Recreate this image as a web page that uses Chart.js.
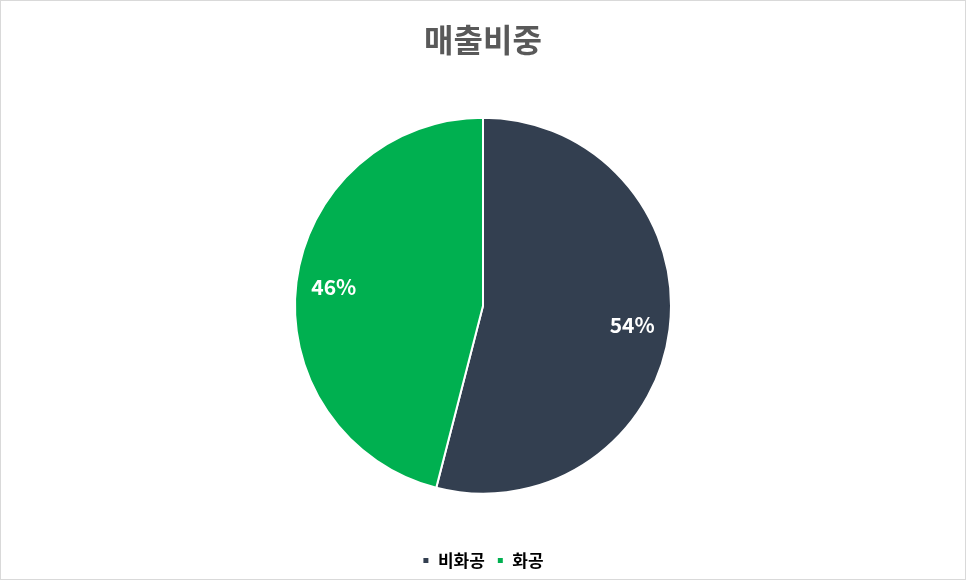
<!DOCTYPE html>
<html>
<head>
<meta charset="utf-8">
<script src="https://cdn.jsdelivr.net/npm/chart.js@4"></script>
<style>
  html, body { margin: 0; padding: 0; background: #fff; }
  #wrap { width: 966px; height: 580px; box-sizing: border-box; border: 1px solid #d9d9d9; }
  #wrap canvas { display: block; }
</style>
</head>
<body>
<div id="wrap"><canvas id="salesChart" width="964" height="578"></canvas></div>
<script>
const categories = ['비화공', '화공'];
const shares = [54, 46];
const sliceColors = ['#333f50', '#00b050'];

const fontFamily = '"Noto Sans CJK KR", "Noto Sans", sans-serif';

// percentage labels inside each slice
const sliceLabels = {
    id: 'sliceLabels',
    afterDatasetsDraw(chart) {
        const ctx = chart.ctx;
        const meta = chart.getDatasetMeta(0);
        ctx.save();
        ctx.fillStyle = '#ffffff';
        ctx.font = '600 21px ' + fontFamily;
        ctx.textAlign = 'center';
        ctx.textBaseline = 'middle';
        meta.data.forEach((arc, i) => {
            const mid = (arc.startAngle + arc.endAngle) / 2;
            const r = arc.outerRadius * 0.8;
            const x = arc.x + Math.cos(mid) * r;
            const y = arc.y + Math.sin(mid) * r;
            ctx.fillText(shares[i] + '%', x, y);
        });
        ctx.restore();
    }
};

new Chart(document.getElementById('salesChart').getContext('2d'), {
    type: 'pie',
    data: {
        labels: categories,
        datasets: [{
            data: shares,
            backgroundColor: sliceColors,
            borderColor: '#ffffff',
            borderWidth: 2
        }]
    },
    options: {
        responsive: false,
        animation: false,
        radius: 188,
        layout: { padding: { top: 6, bottom: 0 } },
        plugins: {
            title: {
                display: true,
                text: '매출비중',
                color: '#595959',
                font: { family: fontFamily, size: 32, weight: 'bold' },
                padding: { top: 14, bottom: 12 }
            },
            legend: {
                position: 'bottom',
                labels: {
                    usePointStyle: true,
                    pointStyle: 'rect',
                    boxWidth: 7,
                    boxHeight: 7,
                    padding: 12,
                    color: '#000000',
                    font: { family: fontFamily, size: 17, weight: 'bold' }
                }
            },
            tooltip: { enabled: false }
        }
    },
    plugins: [sliceLabels]
});
</script>
</body>
</html>
